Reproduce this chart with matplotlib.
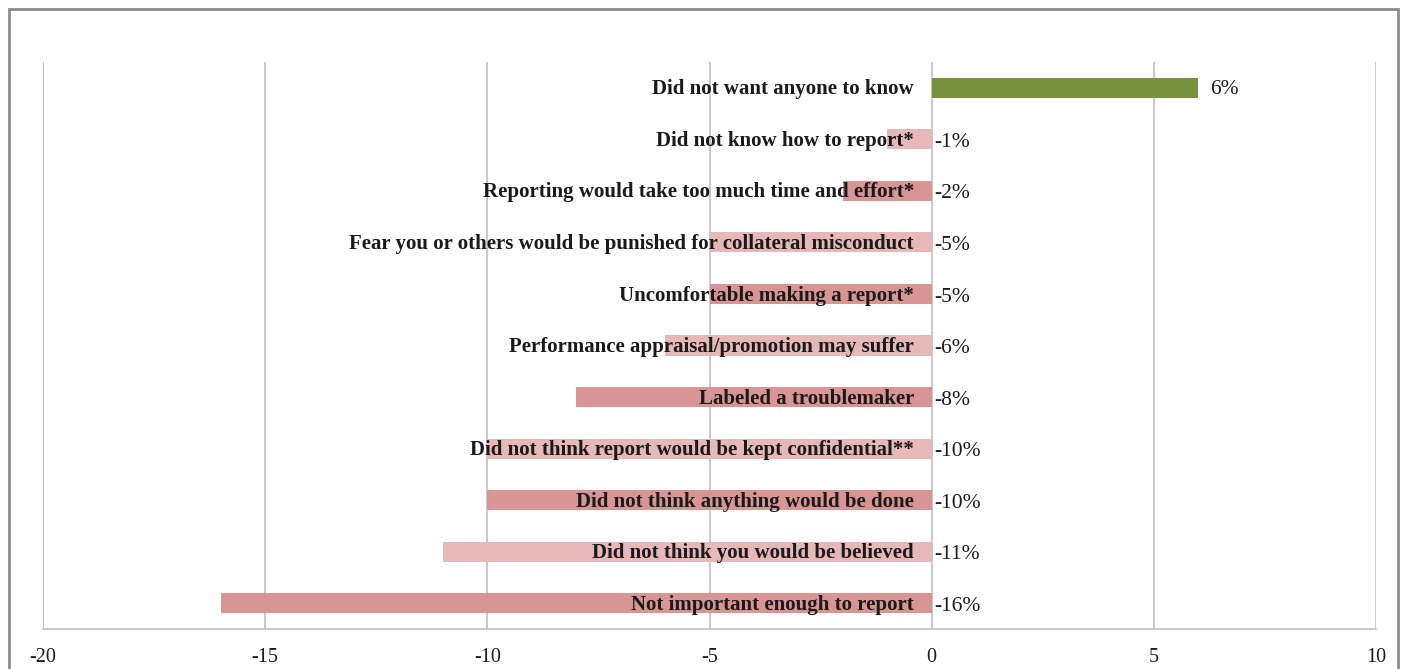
import matplotlib.pyplot as plt
from matplotlib.patches import Rectangle

# Datos (de abajo hacia arriba)
razones = [
    'Not important enough to report',
    'Did not think you would be believed',
    'Did not think anything would be done',
    'Did not think report would be kept confidential**',
    'Labeled a troublemaker',
    'Performance appraisal/promotion may suffer',
    'Uncomfortable making a report*',
    'Fear you or others would be punished for collateral misconduct',
    'Reporting would take too much time and effort*',
    'Did not know how to report*',
    'Did not want anyone to know',
]
valores = [-16, -11, -10, -10, -8, -6, -5, -5, -2, -1, 6]
etiquetas = ['-16%', '-11%', '-10%', '-10%', '-8%', '-6%', '-5%', '-5%', '-2%', '-1%', '6%']

oscuro = '#D99594'
claro = '#E6B9B8'
verde = '#76923C'

plt.rcParams['font.family'] = ['Liberation Serif', 'DejaVu Serif']

fig = plt.figure(figsize=(14.01, 6.69), dpi=100)
ax = fig.add_axes([43 / 1401, 1 - 629 / 669, (1376 - 43) / 1401, (629 - 62) / 669])

# Borde exterior del gráfico
fig.patches.append(Rectangle((9 / 1401, -0.05), (1398 - 9) / 1401, 1 - 9 / 669 + 0.05,
                             transform=fig.transFigure, fill=False,
                             edgecolor='#8c8c8c', linewidth=2))

colores = []
for i, v in enumerate(valores):
    if v > 0:
        colores.append(verde)
    elif i % 2 == 0:
        colores.append(oscuro)
    else:
        colores.append(claro)

pos = list(range(len(valores)))
ax.barh(pos, valores, height=0.39, color=colores, zorder=2)

for y, v, r, e in zip(pos, valores, razones, etiquetas):
    ax.text(-0.4, y - 0.03, r, ha='right', va='center', fontsize=15,
            fontweight='bold', color='#1a1a1a', zorder=3)
    if v > 0:
        ax.text(v + 0.27, y - 0.03, e, ha='left', va='center', fontsize=15.5, color='#1a1a1a')
    else:
        ax.text(0.05, y - 0.06, e, ha='left', va='center', fontsize=15.5, color='#1a1a1a')

ax.set_xlim(-20, 10)
ax.set_ylim(-0.5, 10.5)
ax.set_xticks([-20, -15, -10, -5, 0, 5, 10])
ax.set_xticklabels(['-20', '-15', '-10', '-5', '0', '5', '10'], fontsize=14.5)
ax.set_yticks([])
ax.tick_params(axis='x', length=0, pad=14, colors='#1a1a1a')
ax.grid(axis='x', color='#bfbfbf', linewidth=1.2, zorder=0)
ax.set_axisbelow(True)
for lado in ['top', 'right', 'left']:
    ax.spines[lado].set_visible(False)
ax.spines['bottom'].set_color('#bfbfbf')
ax.spines['bottom'].set_linewidth(1.2)

fig.savefig('out.png', dpi=100)
